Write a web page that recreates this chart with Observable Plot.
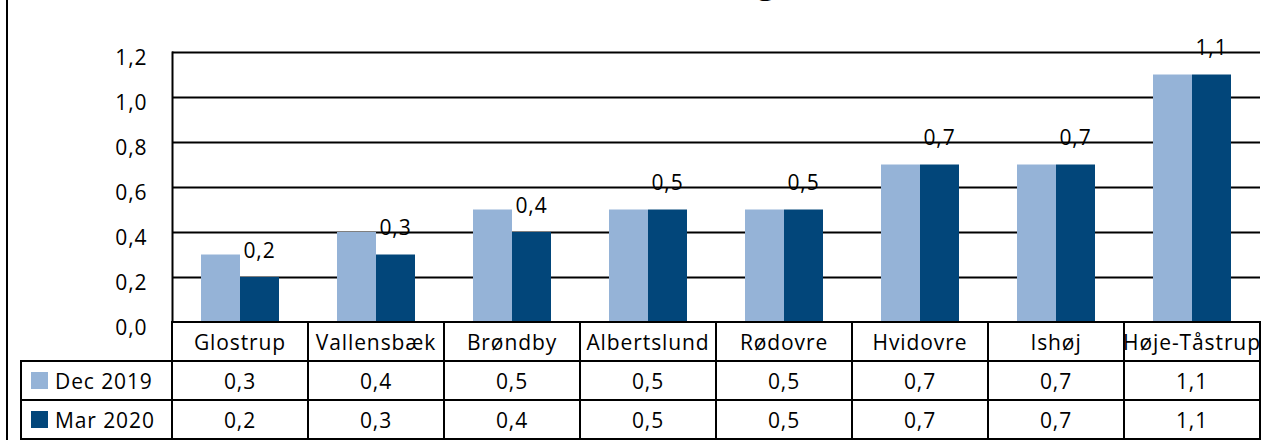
<!DOCTYPE html>
<html>
<head>
<meta charset="utf-8">
<script src="https://cdn.jsdelivr.net/npm/d3@7"></script>
<script src="https://cdn.jsdelivr.net/npm/@observablehq/plot@0.6"></script>
<style>
  html, body { margin: 0; padding: 0; background: #fff; }
  #wrap { position: relative; width: 1283px; height: 443px; overflow: hidden; font-family: "Open Sans", sans-serif; color: #000; }
  #leftline { position: absolute; left: 6px; top: 0; width: 2px; height: 440px; background: #000; }
  #title { position: absolute; left: 0; width: 776px; top: -37px; text-align: right; font-weight: bold; font-size: 34px; line-height: 34px; white-space: nowrap; }
  #chart { position: absolute; left: 0; top: 0; }
  .cell { position: absolute; box-sizing: border-box; border: 2px solid #000; display: flex; align-items: center; justify-content: center; font-size: 21px; letter-spacing: 0.9px; white-space: nowrap; overflow: hidden; background: #fff; }
  .leg { justify-content: flex-start; padding-left: 9px; }
  .sw { display: inline-block; width: 17px; height: 17px; margin-right: 7px; }
</style>
</head>
<body>
<div id="wrap">
  <div id="leftline"></div>
  <div id="title">Kommunernes udvikling</div>
  <div id="chart"></div>
</div>
<script>
const categories = ["Glostrup", "Vallensbæk", "Brøndby", "Albertslund", "Rødovre", "Hvidovre", "Ishøj", "Høje-Tåstrup"];
const seriesNames = ["Dec 2019", "Mar 2020"];
const dec2019 = [0.3, 0.4, 0.5, 0.5, 0.5, 0.7, 0.7, 1.1];
const mar2020 = [0.2, 0.3, 0.4, 0.5, 0.5, 0.7, 0.7, 1.1];
const yTicks = [0, 0.2, 0.4, 0.6, 0.8, 1.0, 1.2];
const colors = ["#95B3D7", "#02467A"];

const fmt = v => v.toFixed(1).replace(".", ",");
const decData = categories.map((c, i) => ({cat: c, series: seriesNames[0], value: dec2019[i]}));
const marData = categories.map((c, i) => ({cat: c, series: seriesNames[1], value: mar2020[i]}));

const plot = Plot.plot({
  width: 1283,
  height: 346,
  marginLeft: 172,
  marginRight: 23,
  marginTop: 52,
  marginBottom: 24,
  style: {fontFamily: "Open Sans", fontSize: "21px", color: "#000", background: "transparent", letterSpacing: "0.9px"},
  x: {domain: categories, padding: 0, axis: null},
  y: {domain: [0, 1.2], axis: null},
  color: {domain: seriesNames, range: colors},
  marks: [
    Plot.ruleY(yTicks, {stroke: "#000", strokeWidth: 2}),
    Plot.barY(decData, {x: "cat", y: "value", fill: "series", insetLeft: 29, insetRight: 68}),
    Plot.barY(marData, {x: "cat", y: "value", fill: "series", insetLeft: 68, insetRight: 29}),
    Plot.frame({anchor: "left", stroke: "#000", strokeWidth: 2}),
    Plot.axisY({ticks: yTicks, tickFormat: fmt, tickSize: 0, tickPadding: 25, dy: 6, label: null, fontSize: 21}),
    Plot.text(marData, {x: "cat", y: "value", text: d => fmt(d.value), dx: 19, dy: -20, lineAnchor: "bottom", fontSize: 21, fill: "#000"})
  ]
});
document.getElementById("chart").appendChild(plot);

// data table under the chart, aligned with the x scale
const xs = plot.scale("x");
const wrap = document.getElementById("wrap");
const rowLines = [322, 361, 400, 439];
function cell(left, top, width, height, html, cls) {
  const d = document.createElement("div");
  d.className = "cell" + (cls ? " " + cls : "");
  d.style.left = left + "px";
  d.style.top = top + "px";
  d.style.width = width + "px";
  d.style.height = height + "px";
  d.innerHTML = html;
  wrap.appendChild(d);
}
const bw = xs.bandwidth;
categories.forEach((c, i) => {
  const x0 = xs.apply(c);
  cell(x0 - 1, rowLines[0] - 1, bw + 2, rowLines[1] - rowLines[0] + 2, c);
  cell(x0 - 1, rowLines[1] - 1, bw + 2, rowLines[2] - rowLines[1] + 2, fmt(dec2019[i]));
  cell(x0 - 1, rowLines[2] - 1, bw + 2, rowLines[3] - rowLines[2] + 2, fmt(mar2020[i]));
});
const firstX = xs.apply(categories[0]);
[[seriesNames[0], colors[0]], [seriesNames[1], colors[1]]].forEach(([name, col], j) => {
  cell(20, rowLines[j + 1] - 1, firstX - 20 + 1, rowLines[j + 2] - rowLines[j + 1] + 2,
    `<span class="sw" style="background:${col}"></span>${name}`, "leg");
});
</script>
</body>
</html>
